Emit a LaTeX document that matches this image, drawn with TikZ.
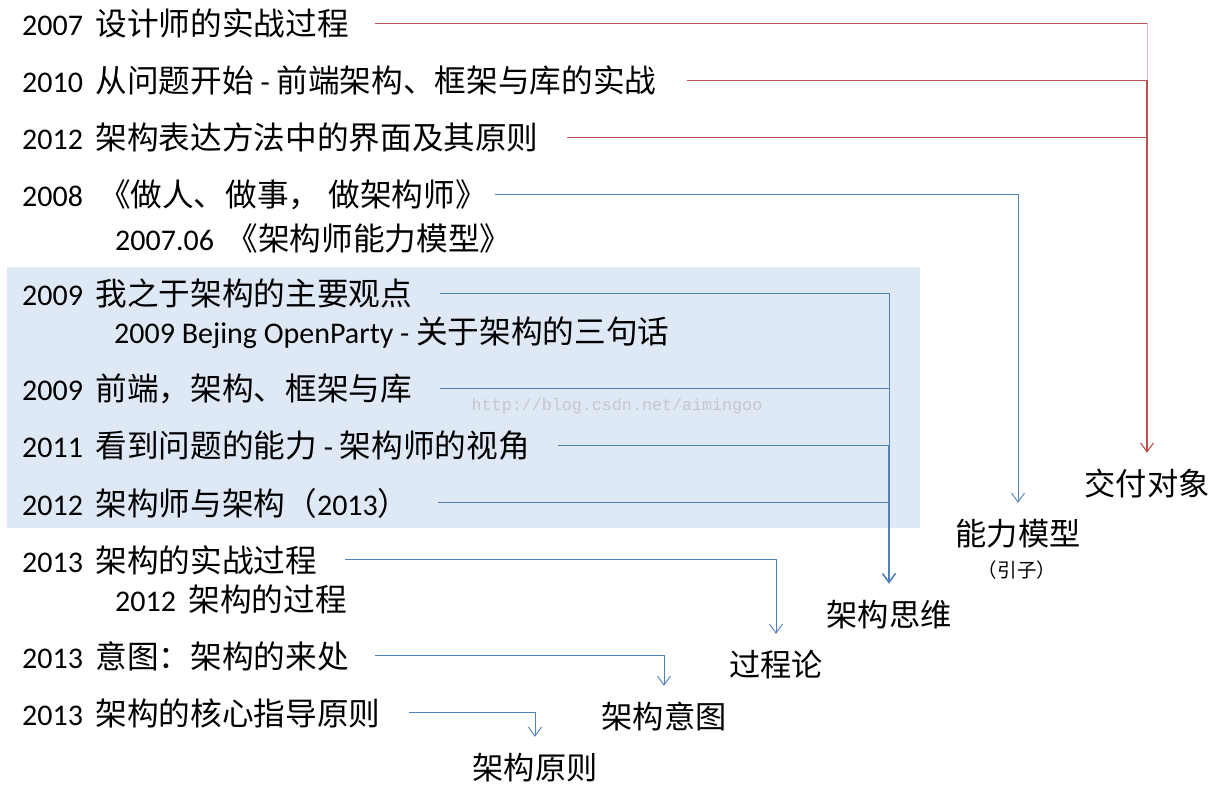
\documentclass[tikz,border=0pt]{standalone}
\usepackage{fontspec}
\setmainfont{Carlito}
\newfontfamily\cjk{Noto Sans CJK SC}[Scale=1.055]
\newfontfamily\wmf{Liberation Mono}
\usetikzlibrary{arrows.meta}
\definecolor{bgblue}{HTML}{DFE8F5}
\definecolor{lineblue}{HTML}{4F81BD}
\definecolor{linered}{HTML}{C0504D}
\definecolor{wmgray}{HTML}{C3C8D0}
\newcommand\zh[1]{{\cjk #1}}
\newcommand\yg{\hspace{12.5pt}}
\begin{document}
\begin{tikzpicture}[x=1pt,y=-1pt,
  row/.style={anchor=west, inner sep=0pt, text height=28pt, text depth=2pt, font=\fontsize{30}{36}\selectfont},
  lbl/.style={inner xsep=0pt, inner ysep=14pt, text height=28pt, text depth=2pt, font=\fontsize{29.6}{36}\selectfont\cjk},
  bl/.style={draw=lineblue, line width=0.9pt},
  rd/.style={draw=linered, line width=0.9pt},
  tip/.style={-{Straight Barb[length=9pt,width=13pt]}}
]
\useasboundingbox (0,0) rectangle (1216,791);
\fill[bgblue] (7,267) rectangle (920,528);
\node[font=\wmf\fontsize{16.7}{20}\selectfont, text=wmgray, inner sep=0pt] (wm) at (617,406) {http://blog.csdn.net/aimingoo};

\node[row] (r1) at (22,23) {2007\yg\zh{设计师的实战过程}};
\node[row] (r2) at (22,80) {2010\yg\zh{从问题开始} - \zh{前端架构、框架与库的实战}};
\node[row] (r3) at (22,137) {2012\yg\zh{架构表达方法中的界面及其原则}};
\node[row] (r4) at (22,194) {2008\hspace{16pt}\zh{《做人、做事，\hspace{8pt}做架构师》}};
\node[row] (r5) at (115,238) {2007.06\yg\zh{《架构师能力模型》}};
\node[row] (r6) at (22,293) {2009\yg\zh{我之于架构的主要观点}};
\node[row] (r7) at (114,331) {2009 Bejing OpenParty - \zh{关于架构的三句话}};
\node[row] (r8) at (22,388) {2009\yg\zh{前端，架构、框架与库}};
\node[row] (r9) at (22,445) {2011\yg\zh{看到问题的能力} - \zh{架构师的视角}};
\node[row] (r10) at (22,502) {2012\yg\zh{架构师与架构（}2013\zh{）}};
\node[row] (r11) at (22,559) {2013\yg\zh{架构的实战过程}};
\node[row] (r12) at (115,598) {2012\yg\zh{架构的过程}};
\node[row] (r13) at (22,655) {2013\yg\zh{意图：架构的来处}};
\node[row] (r14) at (22,712) {2013\yg\zh{架构的核心指导原则}};

\node[lbl] (jd) at (1147,482) {交付对象};
\node[lbl] (nl) at (1018,532) {能力模型};
\node[font=\fontsize{18.5}{22}\selectfont\cjk, inner sep=0pt] (yinzi) at (1017,570) {（引子）};
\node[lbl] (sw) at (889,613) {架构思维};
\node[lbl] (gc) at (776,663) {过程论};
\node[lbl] (yt) at (664,715) {架构意图};
\node[lbl] (yz) at (535,766) {架构原则};

% red group
\draw[rd] ([xshift=26pt]r1.east) -- (r1.east -| jd.north);
\draw[rd, draw=linered!40] (r1.east -| jd.north) -- (r2.east -| jd.north);
\draw[rd] ([xshift=30pt]r2.east) -- (r2.east -| jd.north);
\draw[rd] ([xshift=28pt]r3.east) -- (r3.east -| jd.north);
\draw[rd, line width=1.1pt, tip] (r2.east -| jd.north) -- (jd.north);

% ability model
\draw[bl, tip] ([xshift=8pt]r4.east) -| (nl.north);

% thinking group
\draw[bl] ([xshift=28pt]r6.east) -| (r9.east -| sw.north);
\draw[bl] ([xshift=28pt]r8.east) -- (r8.east -| sw.north);
\draw[bl] ([xshift=28pt]r9.east) -- (r9.east -| sw.north);
\draw[bl] ([xshift=28pt]r10.east) -- (r10.east -| sw.north);
\draw[bl, line width=1.6pt, tip] (r9.east -| sw.north) -- (sw.north);

% bottom group
\draw[bl, tip] ([xshift=28pt]r11.east) -| (gc.north);
\draw[bl, tip] ([xshift=26pt]r13.east) -| (yt.north);
\draw[bl, tip] ([xshift=28pt]r14.east) -| (yz.north);
\end{tikzpicture}
\end{document}
